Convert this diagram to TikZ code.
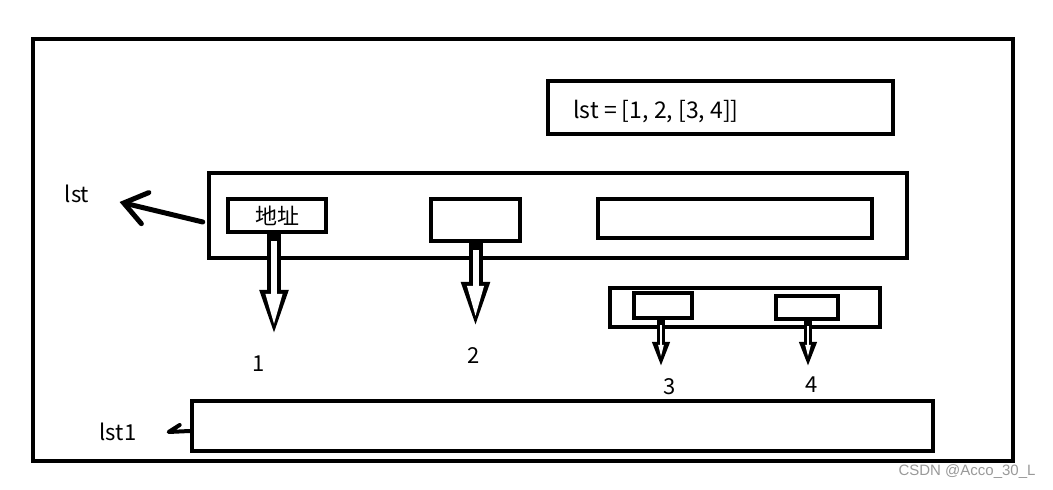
\documentclass[tikz,border=0pt]{standalone}
\usepackage{fontspec}
\setmainfont{Noto Sans CJK SC}
\newfontfamily\markfont{Liberation Sans}
\usetikzlibrary{arrows.meta}

\tikzset{
  box/.style={draw, line width=2.25pt, inner sep=0pt},
  lbl/.style={font=\fontsize{11}{13}\selectfont, inner sep=0pt},
  bigout/.style={line width=7pt, -{Triangle[length=24pt,width=12.5pt]}},
  bigin/.style={white, line width=3pt, shorten <=3.5pt, shorten >=6pt, -{Triangle[length=16pt,width=7.5pt]}},
  smallout/.style={line width=4pt, -{Triangle[length=12.5pt,width=8pt]}},
  smallin/.style={white, line width=1pt, shorten <=2.5pt, shorten >=5pt, -{Triangle[length=6pt,width=2.5pt]}},
}
% hollow arrow: size, from, to
\newcommand\hollow[3]{%
  \draw[#1out] (#2) -- (#3);
  \draw[#1in] (#2) -- (#3);}

\begin{document}
\begin{tikzpicture}[x=0.5pt,y=-0.5pt]
  \useasboundingbox (0,0) rectangle (1053,490);
  % frame and definition
  \node[box, minimum width=490pt, minimum height=211pt] (frame) at (523,250) {};
  \node[box, minimum width=172.5pt, minimum height=26.5pt] (defbox) at (720.5,107.5) {};
  \node[lbl, font=\fontsize{11.5}{13}\selectfont, anchor=west] (deftext) at (573,112) {lst = [1, 2, [3, 4]]};
  % list lst
  \node[box, minimum width=349pt, minimum height=42.5pt] (lstbox) at (558,215.5) {};
  \node[box, lbl, minimum width=49pt, minimum height=16.5pt] (addr) at (277,215.5) {地址};
  \node[box, minimum width=44.5pt, minimum height=21pt] (elem2) at (475.5,220) {};
  \node[box, minimum width=137pt, minimum height=19.5pt] (elem3) at (735,218.5) {};
  % inner list
  \node[box, minimum width=135pt, minimum height=19.5pt] (sublst) at (745,307.5) {};
  \node[box, minimum width=29pt, minimum height=12.5pt] (sub3) at (663,305.5) {};
  \node[box, minimum width=31pt, minimum height=11.5pt] (sub4) at (807,307.5) {};
  % lst1
  \node[box, minimum width=370.5pt, minimum height=25pt] (lst1box) at (562.5,426) {};
  \node[lbl] (lst) at (77,194) {lst};
  \node[lbl] (lst1) at (118,432) {lst1};
  % values
  \node[lbl] (one) at (259,364) {1};
  \node[lbl] (two) at (474,356) {2};
  \node[lbl] (three) at (670,387) {3};
  \node[lbl] (four) at (812,385) {4};
  \coordinate (tip1) at (274,338);
  \coordinate (tip2) at (475.5,330);
  \coordinate (tip3) at (661,367);
  \coordinate (tip4) at (808,367);
  \hollow{big}{addr.south -| tip1}{tip1}
  \hollow{big}{elem2.south}{tip2}
  \hollow{small}{sub3.south -| tip3}{tip3}
  \hollow{small}{sub4.south -| tip4}{tip4}
  % names
  \draw[line width=2.5pt, line cap=round, -{Straight Barb[length=11pt,width=16pt,line cap=round]}]
    ([xshift=-2pt,yshift=-3.25pt]lstbox.west) -- ([xshift=15pt,yshift=-4pt]lst.east);
  \coordinate (lst1tip) at ([xshift=16pt]lst1.east);
  \draw[line width=2pt, line cap=round, line join=round]
    ([yshift=-2.5pt]lst1box.west) -- (lst1tip) -- ++(11,-7);
  \node[font=\markfont\fontsize{7.5}{9}\selectfont, text=black!40] (mark) at (967,472) {CSDN @Acco\_30\_L};
\end{tikzpicture}
\end{document}
